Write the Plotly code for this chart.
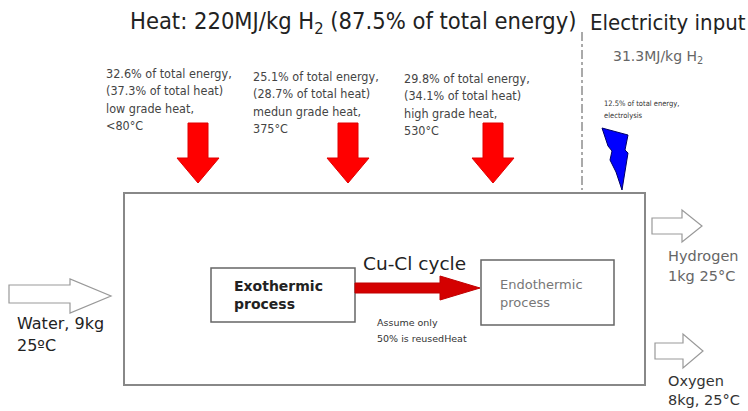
import plotly.graph_objects as go

# ---- content / values ----
heat_total_mj = 220
heat_share_total = 87.5
elec_mj = 31.3
elec_share = 12.5
heat_pct_total = [32.6, 25.1, 29.8]
heat_pct_heat = [37.3, 28.7, 34.1]
heat_grade = ["low grade heat,", "medun grade heat,", "high grade heat,"]
heat_temp = ["<80°C", "375°C", "530°C"]
inputs = ["Water, 9kg", "25ºC"]
outputs_h2 = ["Hydrogen", "1kg 25°C"]
outputs_o2 = ["Oxygen", "8kg, 25°C"]
process_left = ["Exothermic", "process"]
process_right = ["Endothermic", "process"]
cycle_name = "Cu-Cl cycle"
reuse_note = ["Assume only", "50% is reusedHeat"]

W, H = 748, 411
COND = "DejaVu Sans Condensed"
WIDE = "DejaVu Sans"

fig = go.Figure()
shapes = []
ann = []

def text(x, y, s, size, color="#333", bold=False, anchor="left", family=COND):
    if bold:
        s = "<b>" + s + "</b>"
    ann.append(dict(x=x, y=y, xref="x", yref="y", text=s, showarrow=False,
                    xanchor=anchor, yanchor="middle",
                    font=dict(size=size, color=color, family=family)))

def path(pts):
    return "M " + " L ".join(f"{a},{b}" for a, b in pts) + " Z"

# title texts
text(128, 22, f"Heat: {heat_total_mj}MJ/kg H<sub>2</sub> ({heat_share_total}% of total energy)", 23.5, "#222")
text(588, 22, "Electricity input", 22, "#222")
text(611, 57, f"{elec_mj}MJ/kg H<sub>2</sub>", 14, "#666", family=WIDE)
text(602, 103, f"{elec_share}% of total energy,", 7.5, "#333")
text(602, 115, "electrolysis", 7.5, "#333")

# dashed separator
shapes.append(dict(type="line", xref="x", yref="y", x0=582, x1=582, y0=32, y1=190,
                   line=dict(color="#555", width=1, dash="dashdot")))

# heat blocks
block_x = [104, 251, 402]
block_y0 = [73, 76, 78]
for i in range(3):
    lines = [f"{heat_pct_total[i]}% of total energy,",
             f"({heat_pct_heat[i]}% of total heat)",
             heat_grade[i], heat_temp[i]]
    for j, ln in enumerate(lines):
        text(block_x[i], block_y0[i] + j * 17.5, ln, 12.5, "#444")

# red down arrows
arrow_cx = [198, 348, 493]
for cx in arrow_cx:
    pts = [(cx - 10, 123), (cx + 10, 123), (cx + 10, 158), (cx + 21, 158),
           (cx, 183), (cx - 21, 158), (cx - 10, 158)]
    shapes.append(dict(type="path", xref="x", yref="y", path=path(pts),
                       fillcolor="#ff0000", line=dict(color="#e00000", width=1)))

# lightning bolt
bolt = [(602, 128), (628, 135), (625, 150), (628, 153), (622, 190),
        (616, 172), (610, 160), (612, 151), (608, 146)]
shapes.append(dict(type="path", xref="x", yref="y", path=path(bolt),
                   fillcolor="#0000ff", line=dict(color="#000066", width=1)))

# main box
shapes.append(dict(type="rect", xref="x", yref="y", x0=124, x1=645, y0=193, y1=385,
                   line=dict(color="#888", width=2), fillcolor="rgba(0,0,0,0)"))
# inner boxes
shapes.append(dict(type="rect", xref="x", yref="y", x0=211, x1=355, y0=268, y1=322,
                   line=dict(color="#666", width=1.5)))
shapes.append(dict(type="rect", xref="x", yref="y", x0=481, x1=614, y0=260, y1=325,
                   line=dict(color="#666", width=1.5)))
text(232, 286, process_left[0], 14, "#222", bold=True, family=WIDE)
text(232, 304, process_left[1], 14, "#222", bold=True, family=WIDE)
text(498, 284, process_right[0], 13, "#777", family=WIDE)
text(498, 302, process_right[1], 13, "#777", family=WIDE)

# cycle arrow
shapes.append(dict(type="path", xref="x", yref="y",
                   path=path([(355, 283), (440, 283), (440, 276), (480, 288),
                              (440, 300), (440, 293), (355, 293)]),
                   fillcolor="#d40000", line=dict(color="#c00000", width=1)))
text(361, 263, cycle_name, 18.5, "#222", family=WIDE)
text(375, 322, reuse_note[0], 9.5, "#333", family=WIDE)
text(375, 338, reuse_note[1], 9.5, "#333", family=WIDE)

# white arrows
def white_arrow(x0, xh, xt, ys0, ys1, yh0, yh1):
    yc = (yh0 + yh1) / 2
    pts = [(x0, ys0), (xh, ys0), (xh, yh0), (xt, yc), (xh, yh1), (xh, ys1), (x0, ys1)]
    shapes.append(dict(type="path", xref="x", yref="y", path=path(pts),
                       fillcolor="white", line=dict(color="#999", width=1.2)))

white_arrow(9, 70, 111, 285, 303, 279, 313)
white_arrow(652, 682, 702, 218, 234, 210, 242)
white_arrow(655, 683, 703, 343, 359, 334, 368)

text(15, 323, inputs[0], 16, "#222", family=WIDE)
text(15, 345, inputs[1], 16, "#222", family=WIDE)
text(666, 256, outputs_h2[0], 14.5, "#666", family=WIDE)
text(666, 276, outputs_h2[1], 14.5, "#666", family=WIDE)
text(666, 381, outputs_o2[0], 14.5, "#333", family=WIDE)
text(666, 400, outputs_o2[1], 14.5, "#333", family=WIDE)

fig.update_layout(
    width=W, height=H, margin=dict(l=0, r=0, t=0, b=0),
    paper_bgcolor="white", plot_bgcolor="white",
    xaxis=dict(range=[0, W], visible=False, fixedrange=True),
    yaxis=dict(range=[H, 0], visible=False, fixedrange=True),
    shapes=shapes, annotations=ann, showlegend=False,
)
fig.write_html("out.html", config={"displayModeBar": False},
               post_script="document.body.style.margin='0';document.body.style.overflow='hidden';")
